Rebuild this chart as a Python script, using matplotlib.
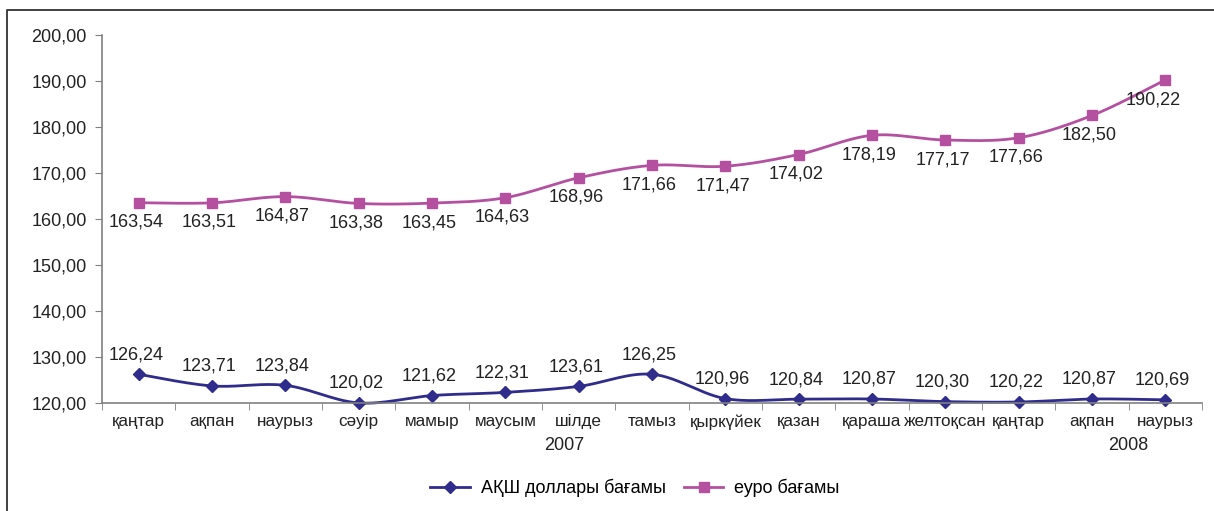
import matplotlib
matplotlib.use("Agg")
import matplotlib.pyplot as plt
import numpy as np
from matplotlib.lines import Line2D

plt.rcParams['font.family'] = ['Liberation Sans', 'DejaVu Sans']

months = ["қаңтар", "ақпан", "наурыз", "сәуір", "мамыр", "маусым", "шілде",
          "тамыз", "қыркүйек", "қазан", "қараша", "желтоқсан", "қаңтар",
          "ақпан", "наурыз"]
usd = [126.24, 123.71, 123.84, 120.02, 121.62, 122.31, 123.61, 126.25,
       120.96, 120.84, 120.87, 120.30, 120.22, 120.87, 120.69]
eur = [163.54, 163.51, 164.87, 163.38, 163.45, 164.63, 168.96, 171.66,
       171.47, 174.02, 178.19, 177.17, 177.66, 182.50, 190.22]
years = ["2007", "2008"]
year_pos = [5.8, 13.5]
y_ticks = [120, 130, 140, 150, 160, 170, 180, 190, 200]

usd_color = "#2F2C8C"
eur_color = "#B4509F"


def smooth(x, y, n=30):
    # Excel-style smoothed line (Catmull-Rom / cubic Bezier) drawn through the data
    x = np.asarray(x, float)
    y = np.asarray(y, float)
    px = np.concatenate([[x[0]], x, [x[-1]]])
    py = np.concatenate([[y[0]], y, [y[-1]]])
    xs, ys = [], []
    t = np.linspace(0, 1, n)
    for i in range(1, len(px) - 2):
        p0 = np.array([px[i], py[i]])
        p3 = np.array([px[i + 1], py[i + 1]])
        p1 = p0 + (np.array([px[i + 1], py[i + 1]]) - np.array([px[i - 1], py[i - 1]])) / 6
        p2 = p3 - (np.array([px[i + 2], py[i + 2]]) - np.array([px[i], py[i]])) / 6
        b = ((1 - t) ** 3)[:, None] * p0 + (3 * (1 - t) ** 2 * t)[:, None] * p1 \
            + (3 * (1 - t) * t ** 2)[:, None] * p2 + (t ** 3)[:, None] * p3
        xs.append(b[:, 0])
        ys.append(b[:, 1])
    return np.concatenate(xs), np.concatenate(ys)


fig = plt.figure(figsize=(12.14, 5.11), dpi=100)
# frame: only top and left edges are visible in the reference
fig.add_artist(Line2D([6.5 / 1214, 6.5 / 1214, 1], [0, 1 - 10.5 / 511, 1 - 10.5 / 511],
                      transform=fig.transFigure, color="#333333", lw=1.3))
ax = fig.add_axes([102 / 1214, 1 - 403 / 511, 1100 / 1214, 368 / 511])

xi = np.arange(len(months))
sx, sy = smooth(xi, usd)
ax.plot(sx, sy, color=usd_color, lw=2, clip_on=False)
ax.plot(xi, usd, ls="none", marker="D", ms=6, color=usd_color, clip_on=False)
sx, sy = smooth(xi, eur)
ax.plot(sx, sy, color=eur_color, lw=2, clip_on=False)
ax.plot(xi, eur, ls="none", marker="s", ms=7, color=eur_color, clip_on=False)

for i, v in enumerate(usd):
    ax.annotate(f"{v:.2f}".replace(".", ","), (i, v), xytext=(-2, 8),
                textcoords="offset points", ha="center", va="bottom",
                fontsize=13, color="#222222")
for i, v in enumerate(eur):
    dx = -9 if i == len(eur) - 1 else -2
    ax.annotate(f"{v:.2f}".replace(".", ","), (i, v), xytext=(dx, -8),
                textcoords="offset points", ha="center", va="top",
                fontsize=13, color="#222222")

ax.set_xlim(-0.5, len(months) - 0.5)
ax.set_ylim(120, 200)
ax.set_yticks(y_ticks)
ax.set_yticklabels([f"{v:.2f}".replace(".", ",") for v in y_ticks],
                   fontsize=13, color="#222222")
ax.set_xticks(xi)
ax.set_xticklabels(months, fontsize=12.3, color="#222222")
ax.set_xticks(np.arange(-0.5, len(months)), minor=True)
ax.tick_params(axis="x", which="major", length=0, pad=8)
ax.tick_params(axis="x", which="minor", length=5, color="#808080")
ax.tick_params(axis="y", length=5, color="#808080", pad=6)
for s in ["top", "right"]:
    ax.spines[s].set_visible(False)
for s in ["left", "bottom"]:
    ax.spines[s].set_color("#808080")
    ax.spines[s].set_linewidth(1.2)

for yp, yl in zip(year_pos, years):
    ax.text(yp, -0.115, yl, transform=ax.get_xaxis_transform(), ha="center",
            va="center", fontsize=13, color="#222222")

h1, = ax.plot([], [], color=usd_color, lw=2, marker="D", ms=6)
h2, = ax.plot([], [], color=eur_color, lw=2, marker="s", ms=7)
fig.legend([h1, h2], ["АҚШ доллары бағамы", "еуро бағамы"], loc="center",
           bbox_to_anchor=(0.523, 1 - 488 / 511), ncol=2, frameon=False,
           fontsize=13, handlelength=2.2, columnspacing=1.0, handletextpad=0.6)

fig.savefig("out.png", dpi=100)
